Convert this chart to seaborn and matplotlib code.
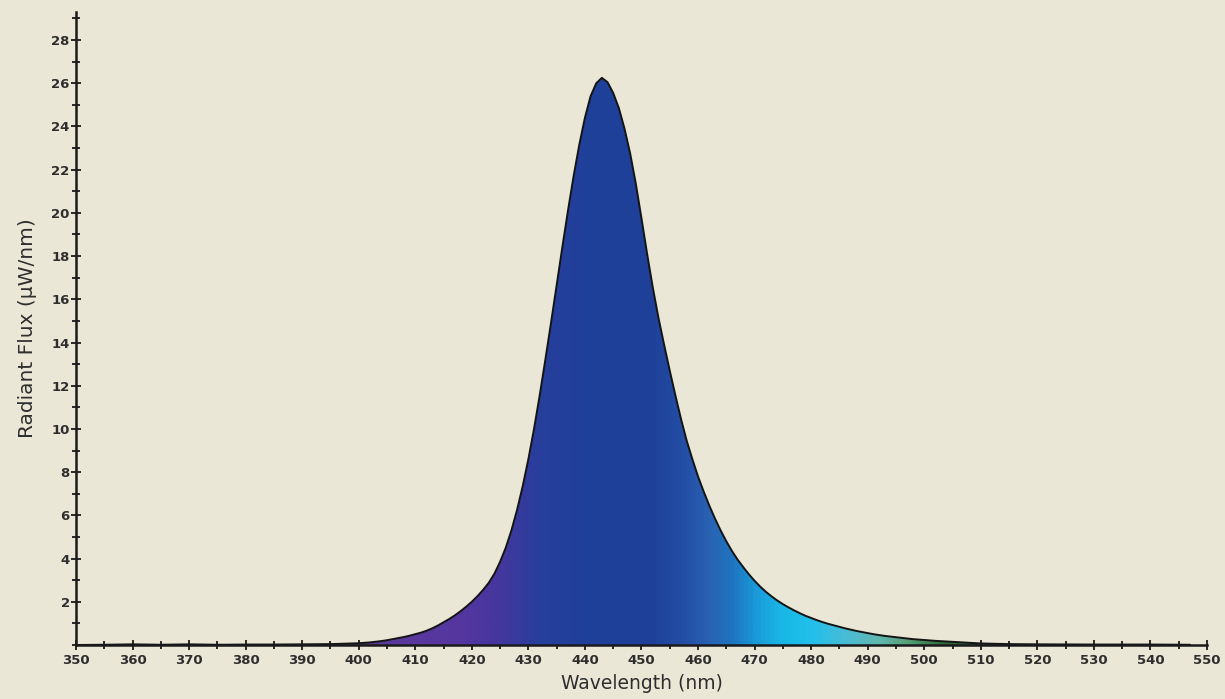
import numpy as np
import matplotlib
matplotlib.use("Agg")
import matplotlib.pyplot as plt
from matplotlib.colors import LinearSegmentedColormap
from matplotlib.ticker import MultipleLocator, FixedLocator
import pandas as pd
import seaborn as sns

# Measured emission spectrum of a blue LED
wavelength_nm = [
    350, 355, 360, 365, 370, 375, 380, 385, 390, 395,
    400, 401, 402, 403, 404, 405, 406, 407, 408, 409,
    410, 411, 412, 413, 414, 415, 416, 417, 418, 419,
    420, 421, 422, 423, 424, 425, 426, 427, 428, 429,
    430, 431, 432, 433, 434, 435, 436, 437, 438, 439,
    440, 441, 442, 443, 444, 445, 446, 447, 448, 449,
    450, 451, 452, 453, 454, 455, 456, 457, 458, 459,
    460, 461, 462, 463, 464, 465, 466, 467, 468, 469,
    470, 471, 472, 473, 474, 475, 476, 477, 478, 479,
    480, 481, 482, 483, 484, 485, 486, 487, 488, 489,
    490, 491, 492, 493, 494, 495, 496, 497, 498, 499,
    500, 502, 504, 506, 508, 510, 515, 520, 530, 540, 547,
]
radiant_flux = [
    0.00, 0.01, 0.03, 0.01, 0.03, 0.01, 0.02, 0.02, 0.03, 0.04,
    0.08, 0.10, 0.12, 0.15, 0.18, 0.22, 0.27, 0.32, 0.37, 0.43,
    0.50, 0.57, 0.66, 0.77, 0.90, 1.05, 1.20, 1.37, 1.56, 1.77,
    2.00, 2.26, 2.55, 2.88, 3.30, 3.85, 4.50, 5.30, 6.25, 7.35,
    8.60, 10.0, 11.55, 13.2, 14.9, 16.65, 18.4, 20.1, 21.7, 23.15,
    24.4, 25.4, 26.0, 26.25, 26.05, 25.55, 24.85, 23.9, 22.75, 21.35,
    19.75, 18.1, 16.55, 15.15, 13.9, 12.7, 11.55, 10.45, 9.45, 8.6,
    7.80, 7.10, 6.45, 5.85, 5.30, 4.80, 4.35, 3.95, 3.60, 3.27,
    2.97, 2.70, 2.46, 2.25, 2.06, 1.89, 1.74, 1.60, 1.47, 1.35,
    1.25, 1.15, 1.06, 0.98, 0.91, 0.84, 0.77, 0.71, 0.65, 0.60,
    0.55, 0.50, 0.46, 0.42, 0.39, 0.36, 0.33, 0.30, 0.27, 0.25,
    0.23, 0.19, 0.16, 0.13, 0.10, 0.07, 0.04, 0.03, 0.02, 0.02, 0.01,
]

x_ticks = list(range(350, 551, 10))
y_ticks = list(range(2, 29, 2))

# Colour of the fill under the curve, by wavelength
fill_stops_nm = [350, 405, 418, 425, 432, 440, 452, 458, 462, 466, 470,
                 475, 480, 486, 492, 497, 503, 510, 550]
fill_stops_color = ["#5a3a9c", "#5a3a9c", "#5536a0", "#44379e", "#263f9c",
                    "#20409a", "#1f4199", "#2450a8", "#2a62b2", "#1e74c0",
                    "#1a98d8", "#18b8e6", "#20c0ea", "#48bcd8", "#60b8b0",
                    "#58a078", "#2e6e40", "#2a5a35", "#2a5a35"]

sns.set_theme(style="white")
plt.rcParams["font.family"] = ["DejaVu Sans"]

BG = "#ebe7d7"
TEXT = "#2e2e2e"
x_min, x_max = 350, 550
y_min, y_max = 0, 29.3

fig = plt.figure(figsize=(12.25, 6.99), dpi=100, facecolor=BG)
ax = fig.add_axes([0.062, 0.0773, 0.9233, 0.9056])
ax.set_facecolor(BG)

df = pd.DataFrame({"Wavelength": wavelength_nm, "Flux": radiant_flux})

# Gradient fill clipped to the area under the spectrum
poly = ax.fill_between(df["Wavelength"], df["Flux"], 0, facecolor="none",
                       edgecolor="none", zorder=2)
pos = [(v - x_min) / (x_max - x_min) for v in fill_stops_nm]
cmap = LinearSegmentedColormap.from_list("spectrum", list(zip(pos, fill_stops_color)))
grad = np.linspace(x_min, x_max, 1000)[None, :]
im = ax.imshow(grad, extent=[x_min, x_max, y_min, y_max], aspect="auto",
               cmap=cmap, vmin=x_min, vmax=x_max, origin="lower", zorder=2,
               interpolation="bilinear")
im.set_clip_path(poly.get_paths()[0], transform=ax.transData)

sns.lineplot(data=df, x="Wavelength", y="Flux", ax=ax, color="#141414",
             linewidth=1.4, zorder=4)

ax.set_xlim(x_min, x_max)
ax.set_ylim(y_min, y_max)

ax.xaxis.set_major_locator(FixedLocator(x_ticks))
ax.xaxis.set_minor_locator(MultipleLocator(5))
ax.yaxis.set_major_locator(FixedLocator(y_ticks))
ax.yaxis.set_minor_locator(MultipleLocator(1))

for side in ("top", "right"):
    ax.spines[side].set_visible(False)
for side in ("left", "bottom"):
    ax.spines[side].set_color("#1a1a1a")
    ax.spines[side].set_linewidth(1.8)
    ax.spines[side].set_zorder(5)

ax.tick_params(axis="both", which="major", direction="inout", length=7,
               width=1.3, color="#1a1a1a", labelsize=9.5, labelcolor=TEXT)
ax.tick_params(axis="both", which="minor", direction="inout", length=6,
               width=1.3, color="#1a1a1a")
ax.tick_params(axis="x", which="both", bottom=True, pad=3)
ax.tick_params(axis="y", which="both", left=True, pad=1)
for lab in ax.get_xticklabels() + ax.get_yticklabels():
    lab.set_fontweight("bold")

ax.set_xlabel("Wavelength (nm)", fontsize=13.5, color=TEXT, labelpad=5)
ax.set_ylabel("Radiant Flux (\u00b5W/nm)", fontsize=14.5, color=TEXT, labelpad=10)
ax.grid(False)

fig.savefig("out.png", dpi=100, facecolor=BG)
